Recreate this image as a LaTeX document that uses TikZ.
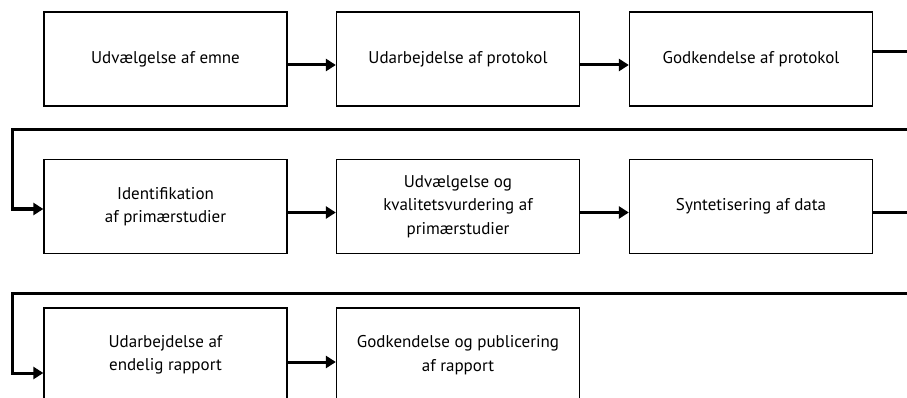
\documentclass[tikz,border=0pt]{standalone}
\usepackage{fontspec}
\setmainfont{PT Sans}
\usetikzlibrary{arrows.meta}
\begin{document}
\begin{tikzpicture}[x=1pt,y=-1pt,
  box/.style={draw, line width=1.3pt, minimum width=243pt, minimum height=94pt,
    align=center, inner sep=2pt, font=\fontsize{17}{23.5}\selectfont},
  conn/.style={line width=3pt},
  arr/.style={line width=3pt, -{Triangle[length=10pt,width=12pt]}}]
\useasboundingbox (0,0) rectangle (907,398);
% row 1
\node[box] (b1) at (165.5,59) {Udvælgelse af emne};
\node[box] (b2) at (458,59) {Udarbejdelse af protokol};
\node[box] (b3) at (751,59) {Godkendelse af protokol};
% row 2
\node[box] (b4) at (165.5,206.5) {Identifikation\\af primærstudier};
\node[box] (b5) at (458,206.5) {Udvælgelse og\\kvalitetsvurdering af\\primærstudier};
\node[box] (b6) at (751,206.5) {Syntetisering af data};
% row 3
\node[box] (b7) at (165.5,355) {Udarbejdelse af\\endelig rapport};
\node[box] (b8) at (458,355) {Godkendelse og publicering\\af rapport};
% edge coordinates
\coordinate (e1) at (907,52);
\coordinate (r1) at (907,130);
\coordinate (l1) at (12,130);
\coordinate (e2) at (907,212);
\coordinate (r2) at (907,293);
\coordinate (l2) at (12,293);
% row 1 connectors
\draw[arr] ([yshift=-6pt]b1.east) -- ([yshift=-6pt]b2.west);
\draw[arr] ([yshift=-6pt]b2.east) -- ([yshift=-6pt]b3.west);
\draw[conn] ([yshift=7pt]b3.east) -- (e1);
\draw[arr] (r1) -- (l1) |- ([yshift=-2.5pt]b4.west);
% row 2 connectors
\draw[arr] ([yshift=-6pt]b4.east) -- ([yshift=-6pt]b5.west);
\draw[arr] ([yshift=-6pt]b5.east) -- ([yshift=-6pt]b6.west);
\draw[conn] ([yshift=-5.5pt]b6.east) -- (e2);
\draw[arr] (r2) -- (l2) |- ([yshift=-18pt]b7.west);
% row 3 connectors
\draw[arr] ([yshift=-7pt]b7.east) -- ([yshift=-7pt]b8.west);
\end{tikzpicture}
\end{document}
